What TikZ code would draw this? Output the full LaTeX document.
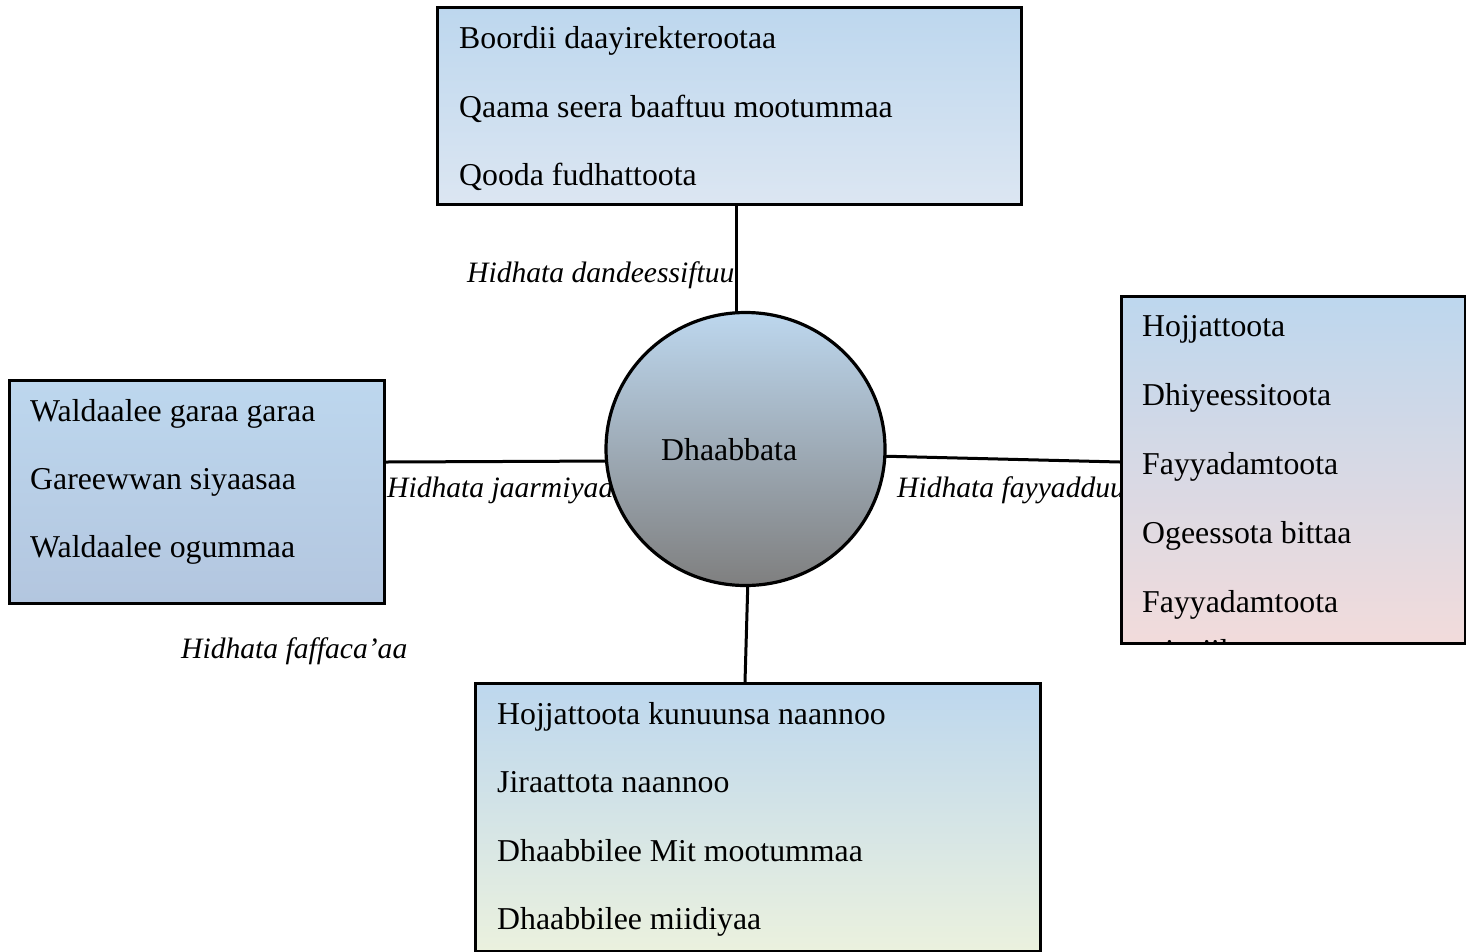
\documentclass[tikz,border=0pt]{standalone}
\usepackage{fontspec}
\setmainfont{Liberation Serif}
\usetikzlibrary{shapes.geometric,backgrounds}
\definecolor{lblue}{HTML}{BDD7EE}
\definecolor{tbot}{HTML}{DCE6F2}
\definecolor{lbot}{HTML}{B3C6DF}
\definecolor{rbot}{HTML}{F2DBDB}
\definecolor{bbot}{HTML}{EBF1DE}
\definecolor{cmid}{HTML}{A9BDD3}
\definecolor{cbot}{HTML}{7F7F7F}
\begin{document}
\begin{tikzpicture}[x=1pt,y=-1pt,
  box/.style={draw=black, line width=3.2pt, rectangle, anchor=north west, inner sep=0pt},
  txt/.style={anchor=base west, inner sep=0pt, font=\fontsize{31.8}{38}\selectfont},
  lab/.style={anchor=base west, inner sep=0pt, font=\fontsize{29.6}{36}\selectfont\itshape},
  conn/.style={draw=black, line width=3pt}]
\useasboundingbox (0,0) rectangle (1466,951);
% shapes
\node[box, top color=lblue, bottom color=tbot, minimum width=584, minimum height=197] (nTop) at (436,6) {};
\node[box, top color=lblue, bottom color=lbot, minimum width=375, minimum height=223] (nLeft) at (8,379) {};
\node[box, top color=lblue, bottom color=rbot, minimum width=344, minimum height=347] (nRight) at (1120,295) {};
\node[box, top color=lblue, bottom color=bbot, minimum width=565, minimum height=268] (nBot) at (474,682) {};
\node[ellipse, draw=black, line width=3.2pt, top color=lblue, middle color=cmid, bottom color=cbot, minimum width=279, minimum height=273, inner sep=0pt] (circ) at (745.5,449) {};
\node[txt] (cTxt) at (661,460) {Dhaabbata};
% top box texts
\node[txt] (t1) at (459,48) {Boordii daayirekterootaa};
\node[txt] (t2) at (459,117) {Qaama seera baaftuu mootummaa};
\node[txt] (t3) at (459,185) {Qooda fudhattoota};
% left box texts
\node[txt] (l1) at (30,421.5) {Waldaalee garaa garaa};
\node[txt] (l2) at (30,489.5) {Gareewwan siyaasaa};
\node[txt] (l3) at (30,557.5) {Waldaalee ogummaa};
% right box texts
\node[txt] (r1) at (1142,336.5) {Hojjattoota};
\node[txt] (r2) at (1142,405.5) {Dhiyeessitoota};
\node[txt] (r3) at (1142,474.5) {Fayyadamtoota};
\node[txt] (r4) at (1142,543.5) {Ogeessota bittaa};
\node[txt] (r5) at (1142,612.5) {Fayyadamtoota};
\begin{scope}
  \clip ([shift={(1.6pt,-1.6pt)}]nRight.north west) rectangle ([shift={(-1.6pt,1.6pt)}]nRight.south east);
  \node[txt] (r6) at (1142,661) {tajaajilaa};
\end{scope}
% bottom box texts
\node[txt] (b1) at (497,724.5) {Hojjattoota kunuunsa naannoo};
\node[txt] (b2) at (497,792.5) {Jiraattota naannoo};
\node[txt] (b3) at (497,861.5) {Dhaabbilee Mit mootummaa};
\node[txt] (b4) at (497,929.5) {Dhaabbilee miidiyaa};
% labels and connectors beneath the shapes
\begin{scope}[on background layer]
  \node[lab] (labTop) at (467,282) {Hidhata dandeessiftuu};
  \node[lab] (labLeft) at (387,497) {Hidhata jaarmiyaa};
  \node[lab] (labRight) at (897,497) {Hidhata fayyadduu};
  \node[lab] (labFree) at (181,658) {Hidhata faffaca’aa};
  \draw[conn] (nTop.south -| 736,0) -- ([yshift=-10pt]circ.north -| 736,0);
  \draw[conn] (nLeft.east |- 0,462) -- ([xshift=10pt]circ.west |- 0,461);
  \draw[conn] ([xshift=-10pt]circ.east |- 0,456) -- (nRight.west |- 0,462);
  \draw[conn] ([yshift=10pt]circ.south -| 748,0) -- (nBot.north -| 745,0);
\end{scope}
\end{tikzpicture}
\end{document}
